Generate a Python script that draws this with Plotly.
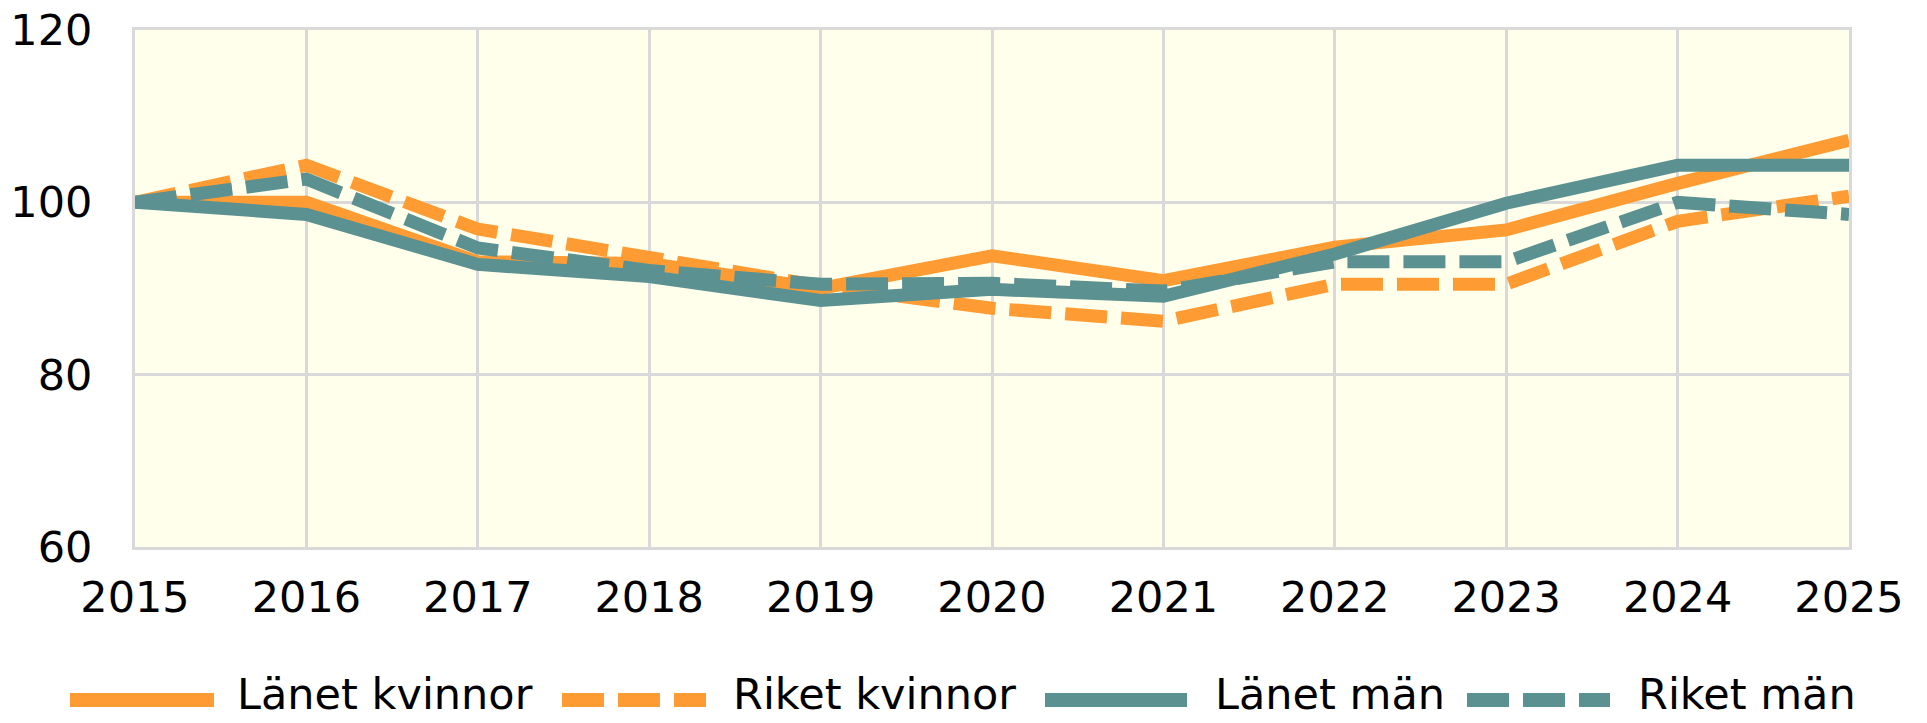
import plotly.graph_objects as go

years = [2015, 2016, 2017, 2018, 2019, 2020, 2021, 2022, 2023, 2024, 2025]
lanet_kvinnor = [100, 100.0, 93.1, 92.9, 90.0, 93.8, 90.9, 94.8, 96.8, 102.2, 107.2]
riket_kvinnor = [100, 104.3, 96.9, 93.5, 90.3, 87.7, 86.2, 90.5, 90.5, 97.8, 100.7]
lanet_man = [100, 98.6, 92.8, 91.4, 88.6, 89.9, 89.1, 94.0, 99.9, 104.3, 104.3]
riket_man = [100, 102.7, 94.7, 92.1, 90.5, 90.6, 89.7, 93.1, 93.1, 100.0, 98.6]
series_names = ["Länet kvinnor", "Riket kvinnor", "Länet män", "Riket män"]
y_ticks = [60, 80, 100, 120]

ORANGE = "#FF9B33"
TEAL = "#5B9191"
colors = [ORANGE, ORANGE, TEAL, TEAL]
dashes = ["solid", "42px,14px", "solid", "42px,14px"]
FONT = "DejaVu Sans"
FS = 43

W, H = 1927, 723
L, R, T, B = 135, 1849, 30, 547

fig = go.Figure()
for name, vals, c, d in zip(series_names, [lanet_kvinnor, riket_kvinnor, lanet_man, riket_man], colors, dashes):
    fig.add_trace(go.Scatter(x=years, y=vals, name=name, mode="lines",
                             line=dict(color=c, width=13, dash=d), showlegend=False))

def px_x(p):
    return (p - L) / (R - L)

def px_y(p):
    return (B - p) / (B - T)

# manual legend (long line symbols like the reference)
leg_line_x = [(70, 214), (562, 706), (1045, 1187), (1467, 1610)]
leg_text_x = [236, 732, 1214, 1637]
leg_line_y = 700
leg_text_y = 694
shapes = []
annotations = []
for (x0, x1), tx, name, c, d in zip(leg_line_x, leg_text_x, series_names, colors, dashes):
    shapes.append(dict(type="line", xref="paper", yref="paper",
                       x0=px_x(x0), x1=px_x(x1), y0=px_y(leg_line_y), y1=px_y(leg_line_y),
                       line=dict(color=c, width=14, dash=d)))
    annotations.append(dict(xref="paper", yref="paper", x=px_x(tx), y=px_y(leg_text_y),
                            xanchor="left", yanchor="middle", showarrow=False,
                            text=name, font=dict(family=FONT, size=FS, color="black"),
                            borderpad=0))

fig.update_layout(
    width=W, height=H,
    margin=dict(l=L, r=W - R, t=T, b=H - B, pad=0, autoexpand=False),
    paper_bgcolor="white",
    plot_bgcolor="#FFFFEB",
    font=dict(family=FONT, size=FS, color="black"),
    shapes=shapes,
    annotations=annotations,
    xaxis=dict(range=[2015, 2025], tickmode="array", tickvals=years,
               ticktext=[str(y) for y in years], automargin=False,
               showgrid=True, gridcolor="#D9D9D9", gridwidth=3,
               showline=True, linecolor="#D9D9D9", linewidth=3, mirror=True,
               zeroline=False, ticks="", ticklabelstandoff=10,
               tickfont=dict(family=FONT, size=FS)),
    yaxis=dict(range=[60, 120], tickmode="array", tickvals=y_ticks, automargin=False,
               showgrid=True, gridcolor="#D9D9D9", gridwidth=3,
               showline=True, linecolor="#D9D9D9", linewidth=3, mirror=True,
               zeroline=False, ticks="", ticklabelstandoff=31,
               tickfont=dict(family=FONT, size=FS)),
)

fig.write_html("out.html", config={"displayModeBar": False},
               post_script="document.body.style.margin='0';")
